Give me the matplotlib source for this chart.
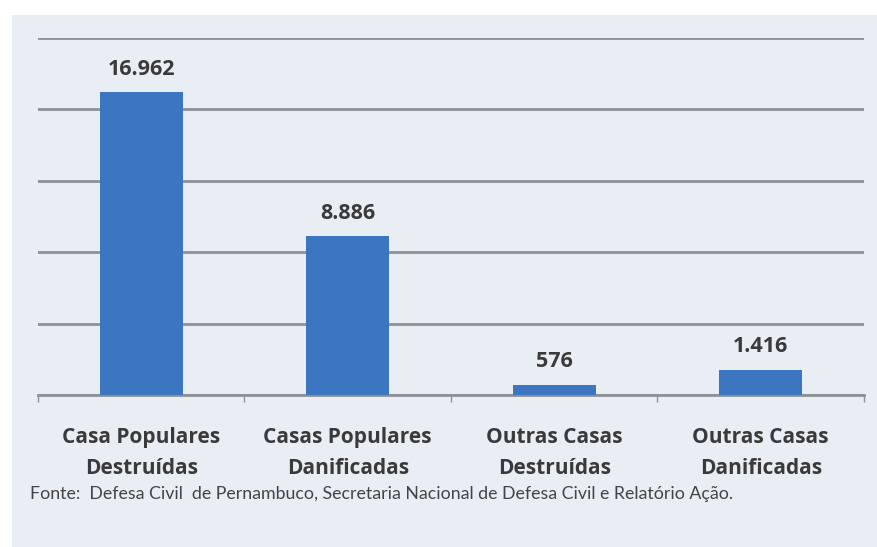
import matplotlib
matplotlib.use("Agg")
import matplotlib.pyplot as plt
from matplotlib.patches import Rectangle

categories = ["Casa Populares\nDestruídas", "Casas Populares\nDanificadas",
              "Outras Casas\nDestruídas", "Outras Casas\nDanificadas"]
values = [16962, 8886, 576, 1416]
value_labels = ["16.962", "8.886", "576", "1.416"]
source = "Fonte:  Defesa Civil  de Pernambuco, Secretaria Nacional de Defesa Civil e Relatório Ação."

W, H = 878, 547
fig = plt.figure(figsize=(W/100, H/100), dpi=100)
fig.patch.set_facecolor("white")
panel_bg = "#e9edf4"
fig.patches.append(Rectangle((12/W, 0), (877-12)/W, (H-15)/H, transform=fig.transFigure,
                             facecolor=panel_bg, edgecolor="none", zorder=-5))

ax = fig.add_axes([38/W, 1-395/H, (864-38)/W, (395-38)/H])
ax.set_zorder(2)
ax.set_facecolor(panel_bg)
x = range(len(values))
ax.bar(x, values, width=0.4, color="#3d76c0", zorder=3)
ax.set_xlim(-0.5, len(values)-0.5)
ax.set_ylim(0, 20000)
ax.set_yticks(range(0, 20001, 4000))
ax.yaxis.grid(True, color="#8e9196", linewidth=2, zorder=1)
ax.set_axisbelow(True)
ax.tick_params(axis="y", left=False, labelleft=False)
for s in ["top", "right", "left"]:
    ax.spines[s].set_visible(False)
ax.spines["bottom"].set_color("#8e9196")
ax.spines["bottom"].set_linewidth(2)
ax.set_xticks([i - 0.5 for i in range(len(values)+1)], minor=False)
ax.set_xticklabels([])
ax.tick_params(axis="x", which="major", length=5, color="#8e9196", width=1)
ax.set_xticks(list(x), minor=True)
ax.set_xticklabels(categories, minor=True, fontsize=15, fontweight="bold",
                   family=["Open Sans", "DejaVu Sans"], color="#3a3a3a", linespacing=1.62)
ax.tick_params(axis="x", which="minor", length=0, pad=23)

for i, (v, lab) in enumerate(zip(values, value_labels)):
    ax.annotate(lab, (i, v), xytext=(0, 9), textcoords="offset points",
                ha="center", va="bottom", fontsize=15.5, fontweight="bold",
                family=["Open Sans", "DejaVu Sans"], color="#3a3a3a")

fig.text(30/W, 1-494/H, source, fontsize=12.8, family=["Lato", "DejaVu Sans"],
         color="#444444", va="center", ha="left")

fig.savefig("out.png", dpi=100)
